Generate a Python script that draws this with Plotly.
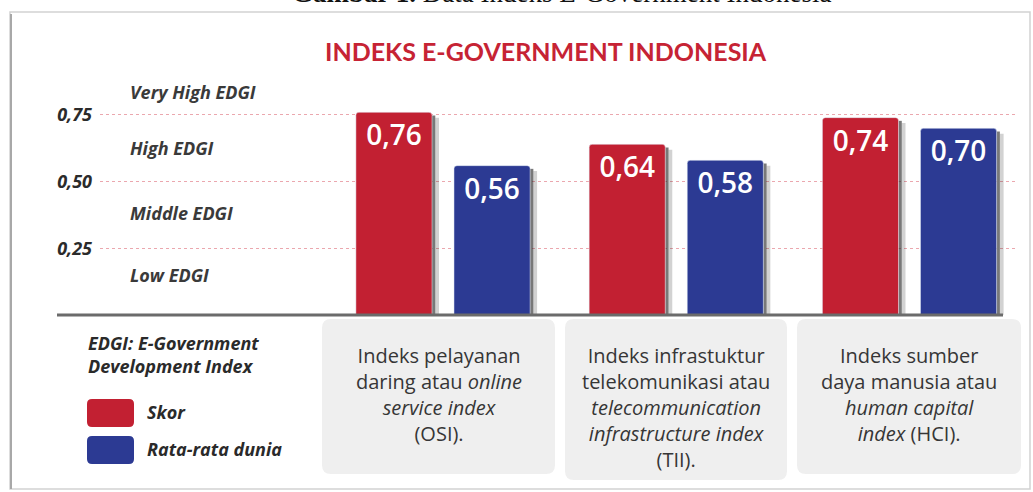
import plotly.graph_objects as go

# ---------------- data ----------------
categories = [0, 1, 2]
category_codes = ["OSI", "TII", "HCI"]
skor = [0.76, 0.64, 0.74]
rata_rata_dunia = [0.56, 0.58, 0.70]
tick_values = [0.25, 0.50, 0.75]
band_labels = ["Very High EDGI", "High EDGI", "Middle EDGI", "Low EDGI"]
panel_texts = [
    "Indeks pelayanan<br>daring atau <i>online</i><br><i>service index</i><br>(OSI).",
    "Indeks infrastuktur<br>telekomunikasi atau<br><i>telecommunication</i><br><i>infrastructure index</i><br>(TII).",
    "Indeks sumber<br>daya manusia atau<br><i>human capital</i><br><i>index</i> (HCI).",
]
legend_names = ["Skor", "Rata-rata dunia"]

RED = "#c22032"
BLUE = "#2c3a93"

# ---------------- geometry helpers (layout in pixels -> paper) ----------------
W, H = 1033, 492
ML, MR, MT, MB = 100, 15, 102, 177
PW = W - ML - MR
PH = H - MT - MB


def PX(p):
    return (p - ML) / PW


def PY(p):
    return (H - MB - p) / PH


def rrect(x0, y0, x1, y1, r):
    pts = [
        ("M", x0 + r, y0), ("L", x1 - r, y0), ("Q", x1, y0, x1, y0 + r),
        ("L", x1, y1 - r), ("Q", x1, y1, x1 - r, y1), ("L", x0 + r, y1),
        ("Q", x0, y1, x0, y1 - r), ("L", x0, y0 + r), ("Q", x0, y0, x0 + r, y0),
    ]
    s = ""
    for p in pts:
        cmd = p[0]
        coords = p[1:]
        pairs = []
        for k in range(0, len(coords), 2):
            pairs.append(f"{PX(coords[k]):.5f},{PY(coords[k+1]):.5f}")
        s += cmd + " " + " ".join(pairs) + " "
    return s + "Z"


fig = go.Figure()

bar_font = dict(family="Open Sans", size=28, color="white", weight=600)
fig.add_trace(go.Bar(
    x=categories, y=skor, name=legend_names[0], marker=dict(color=RED, cornerradius=3),
    texttemplate="%{y:.2f}", textposition="inside", insidetextanchor="end",
    textangle=0, textfont=bar_font, showlegend=False, hoverinfo="skip",
))
fig.add_trace(go.Bar(
    x=categories, y=rata_rata_dunia, name=legend_names[1], marker=dict(color=BLUE, cornerradius=3),
    texttemplate="%{y:.2f}", textposition="inside", insidetextanchor="end",
    textangle=0, textfont=bar_font, showlegend=False, hoverinfo="skip",
))

BARGAP = 0.159
GROUPGAP = 0.224
slot = (1 - BARGAP) / 2
half_w = slot * (1 - GROUPGAP) / 2

shapes = []

# outer frame
shapes.append(dict(type="rect", xref="paper", yref="paper",
                   x0=PX(10), x1=PX(1030), y0=PY(12), y1=PY(489),
                   line=dict(color="#d2d2d2", width=1.5), fillcolor="rgba(0,0,0,0)", layer="below"))
shapes.append(dict(type="line", xref="paper", yref="paper",
                   x0=PX(11), x1=PX(11), y0=PY(14), y1=PY(489),
                   line=dict(color="#a8a8a8", width=2), layer="below"))

# bar shadows (derived from bar values)
for i, c in enumerate(categories):
    for j, vals in enumerate([skor, rata_rata_dunia]):
        cx = c + (j - 0.5) * slot
        v = vals[i]
        shapes.append(dict(type="rect", xref="x", yref="y", x0=cx + half_w, x1=cx + half_w + 0.014,
                           y0=0, y1=v - 0.012, fillcolor="rgba(30,30,30,0.6)", line=dict(width=0), layer="between"))
        shapes.append(dict(type="rect", xref="x", yref="y", x0=cx + half_w + 0.014, x1=cx + half_w + 0.03,
                           y0=0, y1=v - 0.02, fillcolor="rgba(30,30,30,0.2)", line=dict(width=0), layer="between"))

# baseline
shapes.append(dict(type="line", xref="paper", yref="paper", x0=PX(57), x1=PX(1003), y0=0, y1=0,
                   line=dict(color="#6b6b6b", width=3)))

# bottom panels
panel_boxes = [(322, 319, 555, 474), (565, 319, 787, 480), (797, 319, 1021, 474)]
for (a, b, c2, d) in panel_boxes:
    shapes.append(dict(type="path", xref="paper", yref="paper", path=rrect(a, b, c2, d, 9),
                       fillcolor="#efefef", line=dict(width=0), layer="below"))

# legend swatches
for (y0, col) in [(399, RED), (436, BLUE)]:
    shapes.append(dict(type="path", xref="paper", yref="paper", path=rrect(87, y0, 134, y0 + 28, 5),
                       fillcolor=col, line=dict(width=0)))

LABEL_FONT = dict(family="Open Sans", size=18, color="#3a3a3a", weight="bold", style="italic")

annotations = []
# caption (cut at top, as in the source image)
annotations.append(dict(xref="paper", yref="paper", x=PX(561), y=PY(-7), xanchor="center", yanchor="middle",
                        text="<b>Gambar 1.</b> Data Indeks E-Government Indonesia", showarrow=False,
                        font=dict(family="Liberation Serif", size=27, color="#111111")))
# title
annotations.append(dict(xref="paper", yref="paper", x=PX(546), y=PY(51), xanchor="center", yanchor="middle",
                        text="INDEKS E-GOVERNMENT INDONESIA", showarrow=False,
                        font=dict(family="Lato", size=25, color="#c62334", weight="bold")))
# band labels
band_y = [92, 148, 213, 275]
for lab, yy in zip(band_labels, band_y):
    annotations.append(dict(xref="paper", yref="paper", x=PX(128), y=PY(yy), xanchor="left", yanchor="middle",
                            text=lab, showarrow=False, font=LABEL_FONT))
# panel texts
for (a, b, c2, d), txt in zip(panel_boxes, panel_texts):
    annotations.append(dict(xref="paper", yref="paper", x=PX((a + c2) / 2), y=PY(340), xanchor="center",
                            yanchor="top", align="center", text=txt, showarrow=False,
                            font=dict(family="Open Sans", size=20, color="#363636")))
# legend texts
annotations.append(dict(xref="paper", yref="paper", x=PX(86), y=PY(329), xanchor="left", yanchor="top",
                        align="left", text="EDGI: E-Government<br>Development Index", showarrow=False,
                        font=dict(LABEL_FONT, color="#2a2a2a")))
for name, yy in zip(legend_names, [412, 449]):
    annotations.append(dict(xref="paper", yref="paper", x=PX(145), y=PY(yy), xanchor="left", yanchor="middle",
                            text=name, showarrow=False, font=dict(LABEL_FONT, color="#2a2a2a")))

fig.update_layout(
    width=W, height=H,
    margin=dict(l=ML, r=MR, t=MT, b=MB, pad=0),
    paper_bgcolor="white", plot_bgcolor="white",
    separators=",.",
    barmode="group", bargap=BARGAP, bargroupgap=GROUPGAP,
    shapes=shapes, annotations=annotations,
    xaxis=dict(range=[-(443 - ML) / 233.25, -(443 - ML) / 233.25 + PW / 233.25],
               showticklabels=False, showgrid=False, zeroline=False, showline=False, fixedrange=True),
    yaxis=dict(range=[0, PH / 266.7], tickvals=tick_values, tickformat=".2f",
               showgrid=True, gridcolor="#eba7ae", griddash="dot", gridwidth=1.3,
               zeroline=False, showline=False, ticks="", ticklabelstandoff=7, fixedrange=True,
               tickfont=dict(family="Open Sans", size=18, color="#2b2b2b", weight="bold", style="italic")),
    showlegend=False,
    uniformtext=dict(mode=False),
)

fig.write_html("out.html", config={"displayModeBar": False},
               post_script="document.body.style.margin='0px';")
